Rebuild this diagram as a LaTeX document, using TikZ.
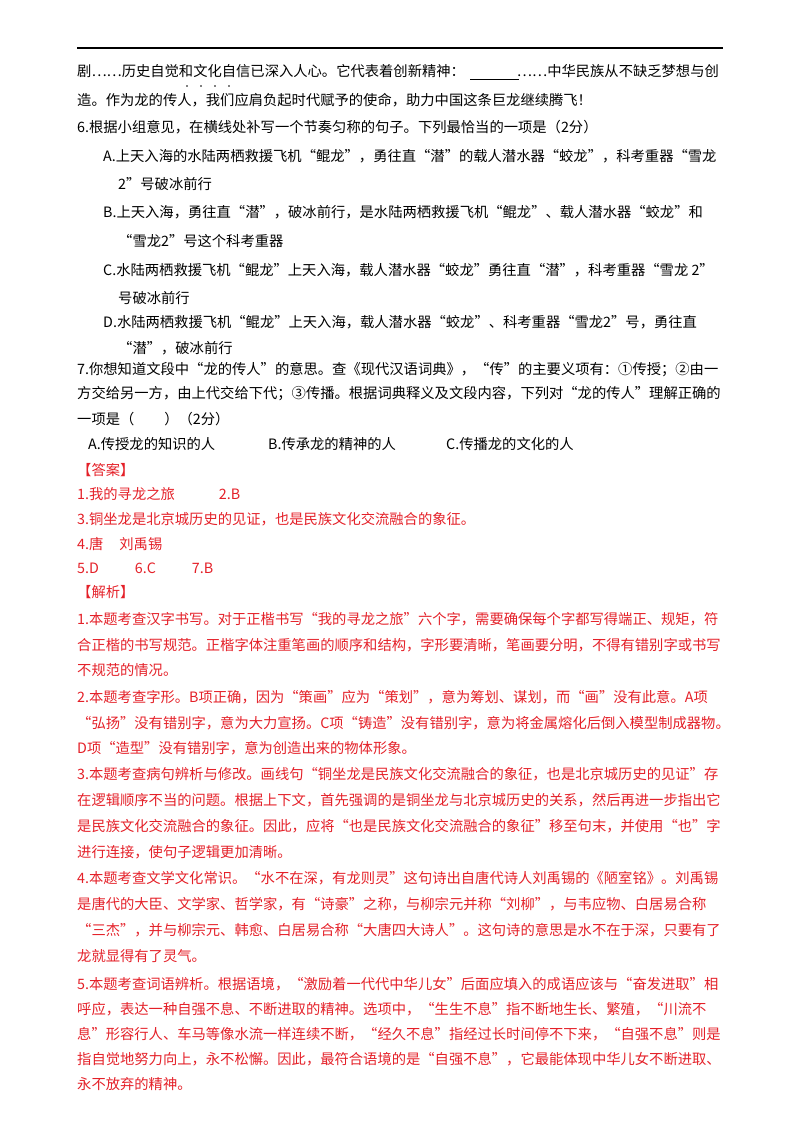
\documentclass[tikz,border=0pt]{standalone}
\usepackage{fontspec}
\newfontfamily\cjk{Noto Sans CJK SC}
\definecolor{ansred}{RGB}{228,32,40}
\begin{document}
\begin{tikzpicture}[x=1pt,y=-1pt,
    txt/.style={anchor=west,inner sep=0pt,font=\cjk\fontsize{14.3}{16}\selectfont},
    ans/.style={txt,text=ansred}]
\useasboundingbox (0,0) rectangle (800,1132);
\draw[line width=1.2pt] (77,48) coordinate (r0) -- (723,48) coordinate (r1);

%passage====================================================================
\node[txt] (p1) at (77,71) {剧……历史自觉和文化自信已深入人心。它代表着创新精神：\hspace{52pt}……中华民族从不缺乏梦想与创};
\node[txt] (p2) at (77,100) {造。作为龙的传人，我们应肩负起时代赋予的使命，助力中国这条巨龙继续腾飞！};
\coordinate (b0) at (470,79); \coordinate (b1) at (519,79);
\draw (b0) -- (b1);
\foreach \x in {187,201,215,229} \fill (\x,86) circle (0.9);

%question 6====================================================================
\node[txt] (q6) at (77,127) {6.根据小组意见，在横线处补写一个节奏匀称的句子。下列最恰当的一项是（2分）};
\node[txt] (q6a) at (103,156) {A.上天入海的水陆两栖救援飞机“鲲龙”，勇往直“潜”的载人潜水器“蛟龙”，科考重器“雪龙};
\node[txt] (q6a2) at (118,184) {2”号破冰前行};
\node[txt] (q6b) at (103,212) {B.上天入海，勇往直“潜”，破冰前行，是水陆两栖救援飞机“鲲龙”、载人潜水器“蛟龙”和};
\node[txt] (q6b2) at (118,241) {“雪龙2”号这个科考重器};
\node[txt] (q6c) at (103,270) {C.水陆两栖救援飞机“鲲龙”上天入海，载人潜水器“蛟龙”勇往直“潜”，科考重器“雪龙 2”};
\node[txt] (q6c2) at (118,298) {号破冰前行};
\node[txt] (q6d) at (103,322) {D.水陆两栖救援飞机“鲲龙”上天入海，载人潜水器“蛟龙”、科考重器“雪龙2”号，勇往直};
\node[txt] (q6d2) at (118,348) {“潜”，破冰前行};

%question 7====================================================================
\node[txt] (q7) at (77,370) {7.你想知道文段中“龙的传人”的意思。查《现代汉语词典》，“传”的主要义项有：①传授；②由一};
\node[txt] (q7b) at (77,394) {方交给另一方，由上代交给下代；③传播。根据词典释义及文段内容，下列对“龙的传人”理解正确的};
\node[txt] (q7c) at (77,419) {一项是（\hspace{30pt}）（2分）};
\node[txt] (q7a) at (88,444) {A.传授龙的知识的人};
\node[txt] (q7bb) at (268,444) {B.传承龙的精神的人};
\node[txt] (q7cc) at (446,444) {C.传播龙的文化的人};

%answers====================================================================
\node[ans] (h1) at (77,470) {【答案】};
\node[ans] (a1) at (77,494) {1.我的寻龙之旅\hspace{44pt}2.B};
\node[ans] (a3) at (77,519) {3.铜坐龙是北京城历史的见证，也是民族文化交流融合的象征。};
\node[ans] (a4) at (77,544) {4.唐\hspace{16pt}刘禹锡};
\node[ans] (a5) at (77,568) {5.D\hspace{36pt}6.C\hspace{36pt}7.B};

%analysis====================================================================
\node[ans] (h2) at (77,592) {【解析】};
\node[ans] (e1) at (77,619) {1.本题考查汉字书写。对于正楷书写“我的寻龙之旅”六个字，需要确保每个字都写得端正、规矩，符};
\node[ans] (e1b) at (77,645) {合正楷的书写规范。正楷字体注重笔画的顺序和结构，字形要清晰，笔画要分明，不得有错别字或书写};
\node[ans] (e1c) at (77,670) {不规范的情况。};
\node[ans] (e2) at (77,697) {2.本题考查字形。B项正确，因为“策画”应为“策划”，意为筹划、谋划，而“画”没有此意。A项};
\node[ans] (e2b) at (77,723) {“弘扬”没有错别字，意为大力宣扬。C项“铸造”没有错别字，意为将金属熔化后倒入模型制成器物。};
\node[ans] (e2c) at (77,748) {D项“造型”没有错别字，意为创造出来的物体形象。};
\node[ans] (e3) at (77,774) {3.本题考查病句辨析与修改。画线句“铜坐龙是民族文化交流融合的象征，也是北京城历史的见证”存};
\node[ans] (e3b) at (77,800) {在逻辑顺序不当的问题。根据上下文，首先强调的是铜坐龙与北京城历史的关系，然后再进一步指出它};
\node[ans] (e3c) at (77,826) {是民族文化交流融合的象征。因此，应将“也是民族文化交流融合的象征”移至句末，并使用“也”字};
\node[ans] (e3d) at (77,852) {进行连接，使句子逻辑更加清晰。};
\node[ans] (e4) at (77,878) {4.本题考查文学文化常识。“水不在深，有龙则灵”这句诗出自唐代诗人刘禹锡的《陋室铭》。刘禹锡};
\node[ans] (e4b) at (77,904) {是唐代的大臣、文学家、哲学家，有“诗豪”之称，与柳宗元并称“刘柳”，与韦应物、白居易合称};
\node[ans] (e4c) at (77,930) {“三杰”，并与柳宗元、韩愈、白居易合称“大唐四大诗人”。这句诗的意思是水不在于深，只要有了};
\node[ans] (e4d) at (77,956) {龙就显得有了灵气。};
\node[ans] (e5) at (77,984) {5.本题考查词语辨析。根据语境，“激励着一代代中华儿女”后面应填入的成语应该与“奋发进取”相};
\node[ans] (e5b) at (77,1009) {呼应，表达一种自强不息、不断进取的精神。选项中，“生生不息”指不断地生长、繁殖，“川流不};
\node[ans] (e5c) at (77,1034) {息”形容行人、车马等像水流一样连续不断，“经久不息”指经过长时间停不下来，“自强不息”则是};
\node[ans] (e5d) at (77,1059) {指自觉地努力向上，永不松懈。因此，最符合语境的是“自强不息”，它最能体现中华儿女不断进取、};
\node[ans] (e5e) at (77,1084) {永不放弃的精神。};
\end{tikzpicture}
\end{document}
